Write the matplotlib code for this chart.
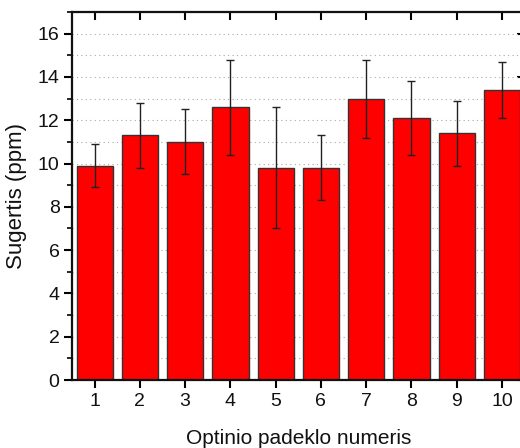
import matplotlib
matplotlib.use("Agg")
import matplotlib.pyplot as plt
from matplotlib.ticker import MultipleLocator

categories = [1, 2, 3, 4, 5, 6, 7, 8, 9, 10]
values = [9.9, 11.3, 11.0, 12.6, 9.8, 9.8, 13.0, 12.1, 11.4, 13.4]
errors = [1.0, 1.5, 1.5, 2.2, 2.8, 1.5, 1.8, 1.7, 1.5, 1.3]
xlabel = "Optinio padeklo numeris"
ylabel = "Sugertis (ppm)"

plt.rcParams['font.family'] = ['Liberation Sans', 'DejaVu Sans']

fig = plt.figure(figsize=(5.2, 4.48), dpi=100)
ax = fig.add_axes([72/520, 68/448, (524.6-72)/520, (380-12)/448])

ax.bar(categories, values, width=0.8, color='#ff0000', edgecolor='#333333',
       linewidth=1.0, zorder=2)
ax.errorbar(categories, values, yerr=errors, fmt='none', ecolor='#222222',
            elinewidth=1.0, capsize=3, capthick=1.0, zorder=3)

ax.set_xlim(0.5, 10.5)
ax.set_ylim(0, 17)
ax.set_xticks(categories)
ax.yaxis.set_major_locator(MultipleLocator(2))
ax.yaxis.set_minor_locator(MultipleLocator(1))

ax.grid(True, which='both', axis='y', linestyle=(0, (1, 3)), color='#aaaaaa',
        linewidth=0.8, zorder=0)
ax.grid(False, axis='x')
ax.set_axisbelow(True)

for s in ax.spines.values():
    s.set_linewidth(1.6)
    s.set_color('#111111')

ax.tick_params(axis='x', which='major', direction='out', length=6, width=1.5,
               labelsize=14, top=False, pad=3, labelcolor='#111111')
ax.tick_params(axis='y', which='major', direction='out', length=6, width=1.5,
               labelsize=14, right=False, pad=3, labelcolor='#111111')
ax.tick_params(axis='y', which='minor', direction='out', length=3.5, width=1.2, right=False)

# top ticks inward, right ticks inward via secondary axes
secx = ax.secondary_xaxis('top')
secx.set_xticks(categories)
secx.tick_params(direction='in', length=6, width=1.5, labeltop=False)
secx.spines['top'].set_visible(False)
secy = ax.secondary_yaxis('right')
secy.yaxis.set_major_locator(MultipleLocator(2))
secy.yaxis.set_minor_locator(MultipleLocator(1))
secy.tick_params(which='major', direction='in', length=6, width=1.5, labelright=False)
secy.tick_params(which='minor', direction='in', length=3.5, width=1.2)
secy.spines['right'].set_visible(False)

ax.set_xlabel(xlabel, fontsize=15, labelpad=14, color='#111111')
ax.set_ylabel(ylabel, fontsize=16, labelpad=8, color='#111111')

fig.savefig("out.png", dpi=100)
